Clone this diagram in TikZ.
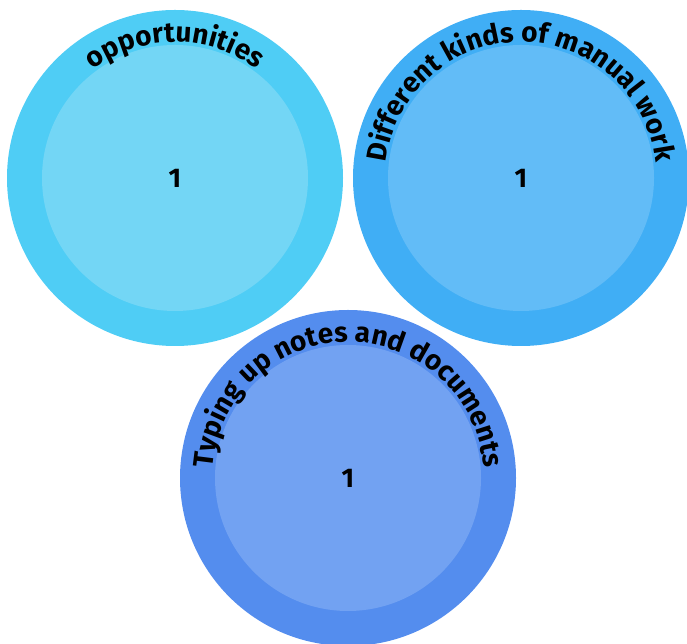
\documentclass[tikz,border=0pt]{standalone}
\usepackage{fontspec}
\setmainfont{Fira Sans}
\usetikzlibrary{decorations.text}
\definecolor{skyouter}{RGB}{79,205,245}
\definecolor{skyinner}{RGB}{115,214,245}
\definecolor{azureouter}{RGB}{64,174,245}
\definecolor{azureinner}{RGB}{98,188,247}
\definecolor{royalouter}{RGB}{84,141,238}
\definecolor{royalinner}{RGB}{114,162,242}
\tikzset{
  count/.style={font=\bfseries\fontsize{27}{27}\selectfont, text=black},
  ringtext/.style={decorate, decoration={text along path, text align=center,
    text={|\bfseries\fontsize{28}{28}\selectfont|#1}}}
}

\begin{document}
\begin{tikzpicture}[x=1pt,y=1pt]
  \useasboundingbox (0,0) rectangle (687,644);
  % opportunities
  \fill[skyouter] (175,466) circle (168pt);
  \fill[skyinner] (175,466) circle (133pt);
  \path[ringtext=opportunities] (39,466) arc[start angle=180, end angle=0, radius=136pt];
  \node[count] (opps) at (175,466) {1};
  % manual work
  \fill[azureouter] (521,466) circle (168pt);
  \fill[azureinner] (521,466) circle (133pt);
  \path[ringtext=Different kinds of manual work] (385,466) arc[start angle=180, end angle=0, radius=136pt];
  \node[count] (manual) at (521,466) {1};
  % typing
  \fill[royalouter] (348,166) circle (168pt);
  \fill[royalinner] (348,166) circle (133pt);
  \path[ringtext=Typing up notes and documents] (212,166) arc[start angle=180, end angle=0, radius=136pt];
  \node[count] (typing) at (348,166) {1};
\end{tikzpicture}
\end{document}
